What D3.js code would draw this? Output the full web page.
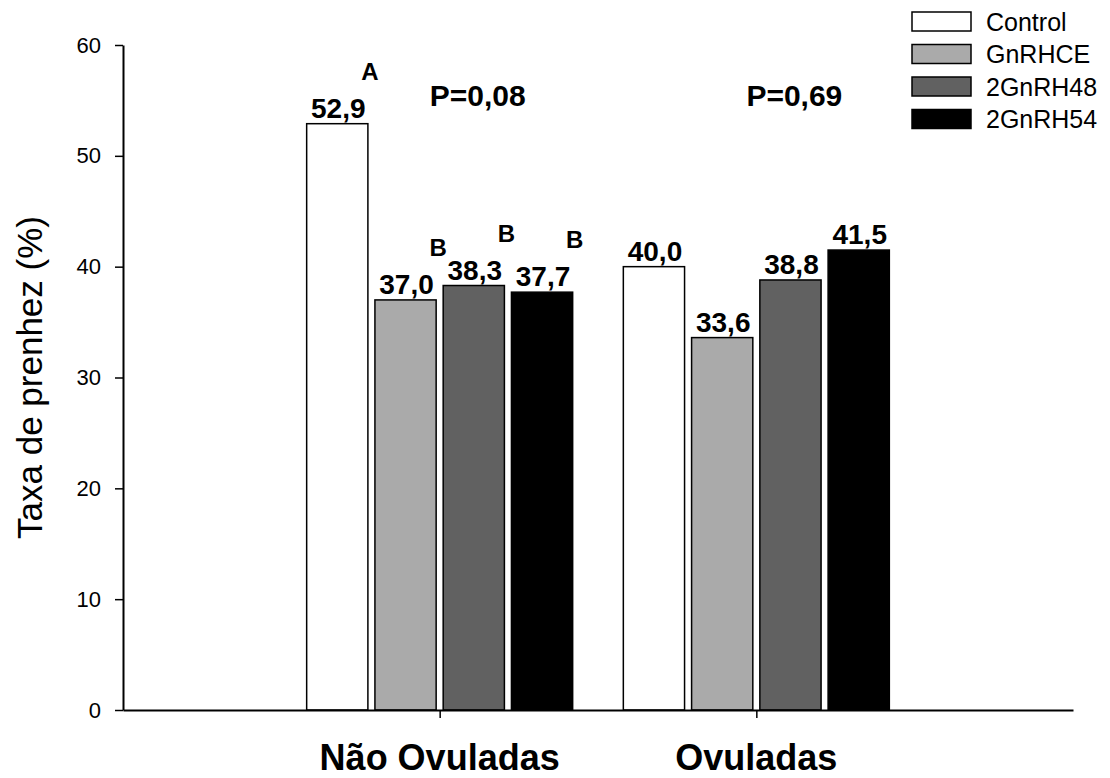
<!DOCTYPE html>
<html>
<head>
<meta charset="utf-8">
<script src="https://cdn.jsdelivr.net/npm/d3@7"></script>
<style>
  html, body { margin: 0; padding: 0; background: #fff; }
  svg { display: block; font-family: "Liberation Sans", Arial, sans-serif; }
</style>
</head>
<body>
<svg id="chart" width="1110" height="778"></svg>
<script>
// ---- data ----
const categories = ["Não Ovuladas", "Ovuladas"];
const seriesNames = ["Control", "GnRHCE", "2GnRH48", "2GnRH54"];
const seriesColors = ["#ffffff", "#aaaaaa", "#616161", "#000000"];
const valuesNaoOvuladas = [52.9, 37.0, 38.3, 37.7];
const valuesOvuladas = [40.0, 33.6, 38.8, 41.5];
const letterNaoOvuladas = ["A", "B", "B", "B"];
const letterOvuladas = ["", "", "", ""];
const pValues = ["P=0,08", "P=0,69"];
const yTicks = [0, 10, 20, 30, 40, 50, 60];
const yLabel = "Taxa de prenhez (%)";

const valuesByCat = [valuesNaoOvuladas, valuesOvuladas];
const lettersByCat = [letterNaoOvuladas, letterOvuladas];

// ---- layout ----
const svg = d3.select("#chart");
const mLeft = 123, mRight = 1073, mTop = 45, mBottom = 710;

const x = d3.scalePoint().domain(categories).range([mLeft, mRight]).padding(1);
const groupHalf = 133;
const xs = d3.scaleBand().domain(seriesNames).range([-groupHalf, groupHalf]).paddingInner(0.103).paddingOuter(0);
const y = d3.scaleLinear().domain([0, 60]).range([mBottom, mTop]);

const fmt = v => v.toFixed(1).replace(".", ",");

// bars
categories.forEach((cat, ci) => {
  const g = svg.append("g").attr("transform", `translate(${x(cat)},0)`);
  const rows = seriesNames.map((s, si) => ({ s, si, v: valuesByCat[ci][si], L: lettersByCat[ci][si] }));
  g.selectAll("rect").data(rows).join("rect")
    .attr("x", d => xs(d.s))
    .attr("y", d => y(d.v))
    .attr("width", xs.bandwidth())
    .attr("height", d => y(0) - y(d.v))
    .attr("fill", d => seriesColors[d.si])
    .attr("stroke", "#000")
    .attr("stroke-width", 1.5);
  g.selectAll("text.val").data(rows).join("text")
    .attr("class", "val")
    .attr("x", d => xs(d.s) + xs.bandwidth() / 2 + 1)
    .attr("y", d => y(d.v) - 6)
    .attr("text-anchor", "middle")
    .attr("font-size", 28)
    .attr("font-weight", "bold")
    .text(d => fmt(d.v));
  g.selectAll("text.let").data(rows.filter(d => d.L)).join("text")
    .attr("class", "let")
    .attr("x", d => xs(d.s) + xs.bandwidth() + 2)
    .attr("y", d => y(d.v) - 44)
    .attr("text-anchor", "middle")
    .attr("font-size", 24)
    .attr("font-weight", "bold")
    .text(d => d.L);
  g.append("text")
    .attr("x", 38)
    .attr("y", y(54.5))
    .attr("text-anchor", "middle")
    .attr("font-size", 30)
    .attr("font-weight", "bold")
    .text(pValues[ci]);
});

// y axis
const yAxis = svg.append("g")
  .attr("transform", `translate(${mLeft},0)`)
  .call(d3.axisLeft(y).tickValues(yTicks).tickSize(8).tickPadding(14).tickSizeOuter(0));
yAxis.select(".domain").attr("stroke-width", 2);
yAxis.selectAll(".tick line").attr("stroke-width", 1.5);
yAxis.selectAll(".tick text").attr("font-size", 22).attr("font-family", "Liberation Sans, Arial, sans-serif").attr("fill", "#000");

// x axis
const xAxis = svg.append("g")
  .attr("transform", `translate(0,${mBottom})`)
  .call(d3.axisBottom(x).tickSize(8).tickSizeOuter(0).tickFormat(""));
xAxis.select(".domain").attr("stroke-width", 2);
xAxis.selectAll(".tick line").attr("stroke-width", 1.5);

svg.selectAll("text.cat").data(categories).join("text")
  .attr("class", "cat")
  .attr("x", d => x(d))
  .attr("y", 770)
  .attr("text-anchor", "middle")
  .attr("font-size", 36)
  .attr("font-weight", "bold")
  .text(d => d);

// y label
svg.append("text")
  .attr("transform", `translate(42,${(mTop + mBottom) / 2}) rotate(-90)`)
  .attr("text-anchor", "middle")
  .attr("font-size", 35)
  .text(yLabel);

// legend
const legend = svg.append("g").attr("transform", "translate(912,12)");
const li = legend.selectAll("g").data(seriesNames).join("g")
  .attr("transform", (d, i) => `translate(0,${i * 32.5})`);
li.append("rect")
  .attr("width", 59).attr("height", 19)
  .attr("fill", (d, i) => seriesColors[i])
  .attr("stroke", "#000").attr("stroke-width", 1.5);
li.append("text")
  .attr("x", 74).attr("y", 18.5)
  .attr("font-size", 25)
  .text(d => d);
</script>
</body>
</html>
